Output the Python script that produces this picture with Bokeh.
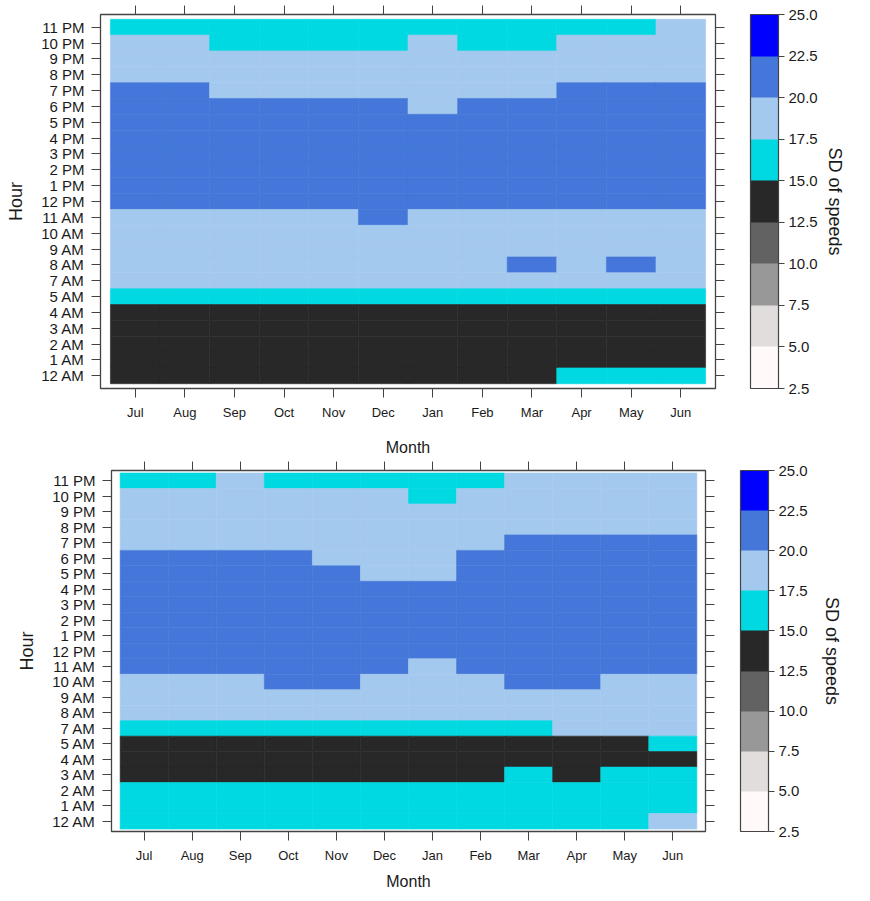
from bokeh.plotting import figure
from bokeh.models import (LinearColorMapper, ColorBar, FixedTicker, CategoricalAxis,
                          ColumnDataSource, PrintfTickFormatter, FactorRange)
from bokeh.layouts import column, row
from bokeh.embed import file_html
from bokeh.resources import INLINE

months = ["Jul", "Aug", "Sep", "Oct", "Nov", "Dec", "Jan", "Feb", "Mar", "Apr", "May", "Jun"]
# rows listed from top (11 PM) to bottom (12 AM); 6 AM is absent in the source
hours_top_down = ["11 PM", "10 PM", "9 PM", "8 PM", "7 PM", "6 PM", "5 PM", "4 PM", "3 PM",
                  "2 PM", "1 PM", "12 PM", "11 AM", "10 AM", "9 AM", "8 AM", "7 AM", "5 AM",
                  "4 AM", "3 AM", "2 AM", "1 AM", "12 AM"]
levels = [2.5, 5.0, 7.5, 10.0, 12.5, 15.0, 17.5, 20.0, 22.5, 25.0]
palette = ["#FFF9F9", "#E1DDDD", "#989898", "#626262", "#282828",
           "#00D9E1", "#A4C9EE", "#4477D9", "#0000FF"]

# SD of speeds, upper panel (rows 11 PM -> 12 AM, columns Jul -> Jun)
sd_upper = [
    [16.2, 16.2, 16.2, 16.2, 16.2, 16.2, 16.2, 16.2, 16.2, 16.2, 16.2, 18.7],
    [18.7, 18.7, 16.2, 16.2, 16.2, 16.2, 18.7, 16.2, 16.2, 18.7, 18.7, 18.7],
    [18.7, 18.7, 18.7, 18.7, 18.7, 18.7, 18.7, 18.7, 18.7, 18.7, 18.7, 18.7],
    [18.7, 18.7, 18.7, 18.7, 18.7, 18.7, 18.7, 18.7, 18.7, 18.7, 18.7, 18.7],
    [21.2, 21.2, 18.7, 18.7, 18.7, 18.7, 18.7, 18.7, 18.7, 21.2, 21.2, 21.2],
    [21.2, 21.2, 21.2, 21.2, 21.2, 21.2, 18.7, 21.2, 21.2, 21.2, 21.2, 21.2],
    [21.2, 21.2, 21.2, 21.2, 21.2, 21.2, 21.2, 21.2, 21.2, 21.2, 21.2, 21.2],
    [21.2, 21.2, 21.2, 21.2, 21.2, 21.2, 21.2, 21.2, 21.2, 21.2, 21.2, 21.2],
    [21.2, 21.2, 21.2, 21.2, 21.2, 21.2, 21.2, 21.2, 21.2, 21.2, 21.2, 21.2],
    [21.2, 21.2, 21.2, 21.2, 21.2, 21.2, 21.2, 21.2, 21.2, 21.2, 21.2, 21.2],
    [21.2, 21.2, 21.2, 21.2, 21.2, 21.2, 21.2, 21.2, 21.2, 21.2, 21.2, 21.2],
    [21.2, 21.2, 21.2, 21.2, 21.2, 21.2, 21.2, 21.2, 21.2, 21.2, 21.2, 21.2],
    [18.7, 18.7, 18.7, 18.7, 18.7, 21.2, 18.7, 18.7, 18.7, 18.7, 18.7, 18.7],
    [18.7, 18.7, 18.7, 18.7, 18.7, 18.7, 18.7, 18.7, 18.7, 18.7, 18.7, 18.7],
    [18.7, 18.7, 18.7, 18.7, 18.7, 18.7, 18.7, 18.7, 18.7, 18.7, 18.7, 18.7],
    [18.7, 18.7, 18.7, 18.7, 18.7, 18.7, 18.7, 18.7, 21.2, 18.7, 21.2, 18.7],
    [18.7, 18.7, 18.7, 18.7, 18.7, 18.7, 18.7, 18.7, 18.7, 18.7, 18.7, 18.7],
    [16.2, 16.2, 16.2, 16.2, 16.2, 16.2, 16.2, 16.2, 16.2, 16.2, 16.2, 16.2],
    [13.8, 13.8, 13.8, 13.8, 13.8, 13.8, 13.8, 13.8, 13.8, 13.8, 13.8, 13.8],
    [13.8, 13.8, 13.8, 13.8, 13.8, 13.8, 13.8, 13.8, 13.8, 13.8, 13.8, 13.8],
    [13.8, 13.8, 13.8, 13.8, 13.8, 13.8, 13.8, 13.8, 13.8, 13.8, 13.8, 13.8],
    [13.8, 13.8, 13.8, 13.8, 13.8, 13.8, 13.8, 13.8, 13.8, 13.8, 13.8, 13.8],
    [13.8, 13.8, 13.8, 13.8, 13.8, 13.8, 13.8, 13.8, 13.8, 16.2, 16.2, 16.2],
]

# SD of speeds, lower panel
sd_lower = [
    [16.2, 16.2, 18.7, 16.2, 16.2, 16.2, 16.2, 16.2, 18.7, 18.7, 18.7, 18.7],
    [18.7, 18.7, 18.7, 18.7, 18.7, 18.7, 16.2, 18.7, 18.7, 18.7, 18.7, 18.7],
    [18.7, 18.7, 18.7, 18.7, 18.7, 18.7, 18.7, 18.7, 18.7, 18.7, 18.7, 18.7],
    [18.7, 18.7, 18.7, 18.7, 18.7, 18.7, 18.7, 18.7, 18.7, 18.7, 18.7, 18.7],
    [18.7, 18.7, 18.7, 18.7, 18.7, 18.7, 18.7, 18.7, 21.2, 21.2, 21.2, 21.2],
    [21.2, 21.2, 21.2, 21.2, 18.7, 18.7, 18.7, 21.2, 21.2, 21.2, 21.2, 21.2],
    [21.2, 21.2, 21.2, 21.2, 21.2, 18.7, 18.7, 21.2, 21.2, 21.2, 21.2, 21.2],
    [21.2, 21.2, 21.2, 21.2, 21.2, 21.2, 21.2, 21.2, 21.2, 21.2, 21.2, 21.2],
    [21.2, 21.2, 21.2, 21.2, 21.2, 21.2, 21.2, 21.2, 21.2, 21.2, 21.2, 21.2],
    [21.2, 21.2, 21.2, 21.2, 21.2, 21.2, 21.2, 21.2, 21.2, 21.2, 21.2, 21.2],
    [21.2, 21.2, 21.2, 21.2, 21.2, 21.2, 21.2, 21.2, 21.2, 21.2, 21.2, 21.2],
    [21.2, 21.2, 21.2, 21.2, 21.2, 21.2, 21.2, 21.2, 21.2, 21.2, 21.2, 21.2],
    [21.2, 21.2, 21.2, 21.2, 21.2, 21.2, 18.7, 21.2, 21.2, 21.2, 21.2, 21.2],
    [18.7, 18.7, 18.7, 21.2, 21.2, 18.7, 18.7, 18.7, 21.2, 21.2, 18.7, 18.7],
    [18.7, 18.7, 18.7, 18.7, 18.7, 18.7, 18.7, 18.7, 18.7, 18.7, 18.7, 18.7],
    [18.7, 18.7, 18.7, 18.7, 18.7, 18.7, 18.7, 18.7, 18.7, 18.7, 18.7, 18.7],
    [16.2, 16.2, 16.2, 16.2, 16.2, 16.2, 16.2, 16.2, 16.2, 18.7, 18.7, 18.7],
    [13.8, 13.8, 13.8, 13.8, 13.8, 13.8, 13.8, 13.8, 13.8, 13.8, 13.8, 16.2],
    [13.8, 13.8, 13.8, 13.8, 13.8, 13.8, 13.8, 13.8, 13.8, 13.8, 13.8, 13.8],
    [13.8, 13.8, 13.8, 13.8, 13.8, 13.8, 13.8, 13.8, 16.2, 13.8, 16.2, 16.2],
    [16.2, 16.2, 16.2, 16.2, 16.2, 16.2, 16.2, 16.2, 16.2, 16.2, 16.2, 16.2],
    [16.2, 16.2, 16.2, 16.2, 16.2, 16.2, 16.2, 16.2, 16.2, 16.2, 16.2, 16.2],
    [16.2, 16.2, 16.2, 16.2, 16.2, 16.2, 16.2, 16.2, 16.2, 16.2, 16.2, 18.7],
]

FONT = "Liberation Sans"
TXT = "#1a1a1a"
LINE = "#444444"


def style_axis(ax, show_labels, size, standoff=7, tick_len=9, tick_color=LINE):
    ax.major_tick_out = tick_len
    ax.major_tick_in = 0
    ax.minor_tick_out = 0
    ax.minor_tick_in = 0
    ax.major_tick_line_color = tick_color
    ax.major_tick_line_width = 1
    ax.axis_line_color = None
    ax.major_label_text_font = FONT
    ax.major_label_text_color = TXT
    ax.axis_label_text_font = FONT
    ax.axis_label_text_font_style = "normal"
    ax.axis_label_text_color = TXT
    ax.major_label_standoff = standoff
    if show_labels:
        ax.major_label_text_font_size = size
    else:
        ax.major_label_text_font_size = "1px"
        ax.major_label_text_color = None


def make_panel(values, width, height, left, right, top, bottom, xpad, ypad,
               gap, lab_standoff, month_standoff):
    xs, ys, vs = [], [], []
    for r, hour in enumerate(hours_top_down):
        for c, m in enumerate(months):
            xs.append(m)
            ys.append(hour)
            vs.append(values[r][c])
    src = ColumnDataSource(dict(month=xs, hour=ys, sd=vs))
    mapper = LinearColorMapper(palette=palette, low=levels[0], high=levels[-1])

    p = figure(x_range=FactorRange(factors=months, range_padding=xpad, range_padding_units="absolute"),
               y_range=FactorRange(factors=hours_top_down[::-1], range_padding=ypad,
                                   range_padding_units="absolute"),
               width=width, height=height,
               output_backend="svg", toolbar_location=None,
               min_border_left=left, min_border_top=top, min_border_right=right,
               min_border_bottom=bottom)
    p.rect(x="month", y="hour", width=1, height=1, source=src,
           fill_color={"field": "sd", "transform": mapper},
           line_color={"field": "sd", "transform": mapper}, line_width=0.6)

    p.grid.visible = False
    p.outline_line_color = LINE
    p.outline_line_width = 1.3
    p.background_fill_color = "white"

    style_axis(p.xaxis[0], True, "13px")
    p.xaxis[0].axis_label = "Month"
    p.xaxis[0].axis_label_text_font_size = "16px"
    p.xaxis[0].axis_label_standoff = month_standoff
    style_axis(p.yaxis[0], True, "15px")
    p.yaxis[0].axis_label = "Hour"
    p.yaxis[0].axis_label_text_font_size = "18px"
    p.yaxis[0].axis_label_standoff = 12

    top_ax = CategoricalAxis()
    style_axis(top_ax, False, "1px", 0)
    p.add_layout(top_ax, "above")

    right_ax = CategoricalAxis()
    style_axis(right_ax, False, "1px", 0)
    p.add_layout(right_ax, "right")

    # invisible spacer between the hour ticks and the colour key
    spacer = CategoricalAxis()
    style_axis(spacer, False, "1px", 0, tick_len=gap, tick_color="white")
    spacer.major_tick_line_alpha = 0.0
    p.add_layout(spacer, "right")

    cb = ColorBar(color_mapper=mapper, ticker=FixedTicker(ticks=levels),
                  formatter=PrintfTickFormatter(format="%.1f"),
                  width=28, padding=0, margin=0,
                  major_tick_out=6, major_tick_in=0, major_tick_line_color=LINE,
                  minor_tick_out=0, minor_tick_in=0,
                  bar_line_color=LINE, bar_line_width=1.2,
                  label_standoff=4, major_label_text_font_size="15px",
                  major_label_text_font=FONT, major_label_text_color=TXT,
                  background_fill_color=None, border_line_color=None)
    p.add_layout(cb, "right")

    lab_ax = CategoricalAxis(axis_label="SD of speeds")
    lab_ax.axis_line_color = None
    lab_ax.major_tick_line_color = None
    lab_ax.minor_tick_line_color = None
    lab_ax.major_tick_out = 0
    lab_ax.major_label_text_font_size = "1px"
    lab_ax.major_label_text_color = None
    lab_ax.major_label_standoff = 0
    lab_ax.axis_label_text_font = FONT
    lab_ax.axis_label_text_font_size = "18px"
    lab_ax.axis_label_text_font_style = "normal"
    lab_ax.axis_label_text_color = TXT
    lab_ax.axis_label_standoff = lab_standoff
    p.add_layout(lab_ax, "right")
    return p


p1 = make_panel(sd_upper, width=854, height=460, left=100, right=139, top=14, bottom=72,
                xpad=0.2, ypad=0.3, gap=26, lab_standoff=4, month_standoff=16)
p2 = make_panel(sd_lower, width=854, height=432, left=111, right=149, top=10, bottom=60,
                xpad=0.18, ypad=0.16, gap=26, lab_standoff=11, month_standoff=7)

layout = column(row(p1), row(p2), spacing=0)
open("out.html", "w").write(file_html(layout, INLINE))
